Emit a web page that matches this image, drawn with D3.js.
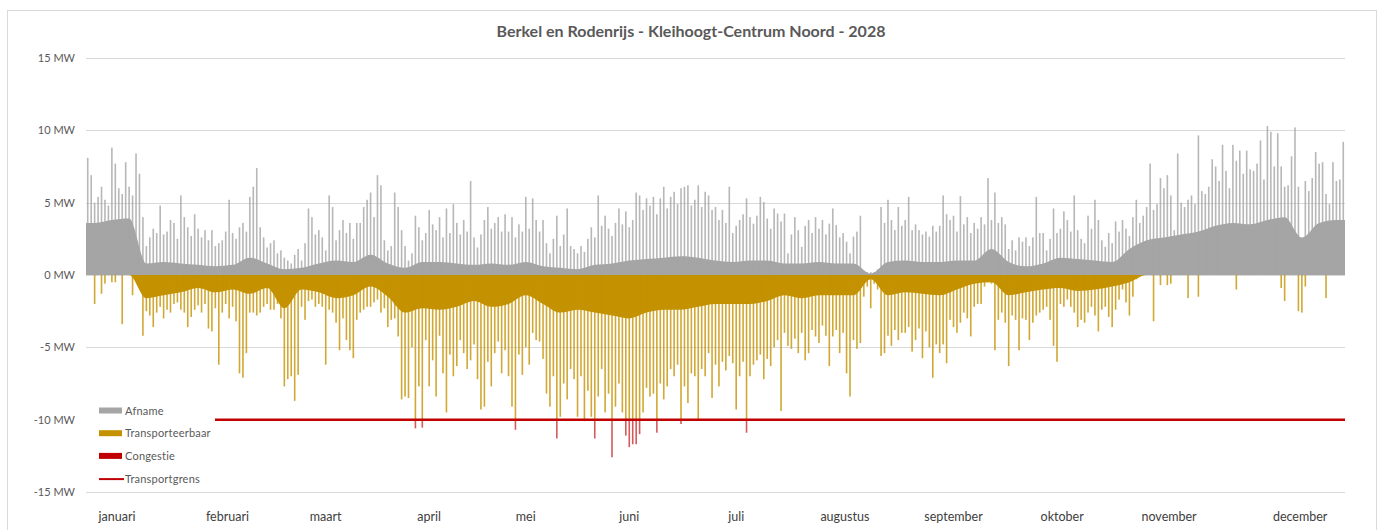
<!DOCTYPE html>
<html>
<head>
<meta charset="utf-8">
<script src="https://cdn.jsdelivr.net/npm/d3@7/dist/d3.min.js"></script>
<style>
body{margin:0;background:#fff;}
text{font-family:Lato,"Open Sans",sans-serif;}
</style>
</head>
<body>
<svg id="chart" width="1381" height="530"></svg>
<script>
// daily peak values (MW), day 0 = 1 januari
var afnamePiek = [
 8.1,6.9,5.0,5.4,6.1,5.2,4.8,8.8,7.7,6.0,5.6,7.8,6.1,5.5,8.4,7.0,
 4.0,2.0,2.6,3.2,2.9,4.8,2.8,3.0,3.8,3.6,2.5,5.5,4.0,3.3,2.7,
 4.2,3.2,2.6,3.1,2.4,3.1,2.0,2.2,2.4,3.0,5.2,2.9,2.5,3.3,3.6,
 3.0,5.4,6.1,7.4,3.3,2.6,1.9,2.2,2.4,1.5,1.7,1.2,1.0,0.8,1.4,
 1.8,1.0,2.2,4.6,4.0,2.8,3.1,2.6,1.7,5.5,4.7,2.4,3.1,3.8,2.9,
 3.6,2.5,3.6,3.6,4.7,5.2,5.7,4.0,6.9,6.2,2.4,1.7,2.0,5.7,4.7,
 3.1,2.0,1.0,1.5,4.1,3.3,2.4,2.9,4.5,3.5,3.1,4.0,2.6,4.6,2.9,
 4.9,3.6,2.8,3.8,3.0,6.5,2.6,1.9,2.8,3.8,4.7,3.2,3.6,4.0,3.0,4.2,
 3.0,4.0,2.6,3.5,3.0,5.4,3.2,5.3,3.8,3.0,3.8,2.2,1.5,2.5,4.1,2.0,
 2.8,4.6,2.0,1.8,1.5,2.0,1.6,2.5,3.3,2.6,5.5,3.4,4.1,3.2,2.7,3.6,
 4.6,3.5,4.4,3.3,3.8,5.7,5.5,4.5,5.3,4.8,5.4,4.2,5.3,6.1,4.6,5.4,
 5.75,4.9,6.0,6.1,6.2,4.8,5.2,6.2,4.7,5.75,5.5,4.5,4.7,3.8,4.5,3.6,
 6.1,2.9,3.4,3.8,4.2,5.3,4.0,3.55,4.1,5.4,5.05,3.9,3.2,4.6,4.25,3.7,
 4.25,1.5,2.8,4.0,3.1,1.95,3.4,3.8,2.9,4.0,3.2,3.8,2.8,3.55,4.6,3.45,
 2.6,2.9,2.3,1.5,2.65,3.0,4.1,0.3,0.2,0.2,0.2,0.4,4.7,3.6,5.2,3.8,
 3.1,4.7,3.4,3.8,5.4,3.1,3.5,3.1,2.8,3.0,2.65,
 3.4,3.0,3.4,5.5,4.2,3.8,4.1,3.0,5.45,3.5,
 4.0,2.9,3.6,3.2,4.0,3.5,6.7,3.8,5.7,3.6,
 4.0,3.5,1.8,2.4,1.7,2.6,2.3,2.6,2.0,2.6,
 5.4,2.9,2.9,1.7,2.5,4.6,2.9,3.2,4.4,3.8,
 3.0,5.5,3.1,2.5,2.2,4.1,3.2,5.2,3.8,2.4,
 1.95,2.9,2.2,3.7,3.0,3.8,3.2,2.7,4.0,5.2,
 3.6,4.1,4.7,7.7,4.5,4.9,6.7,6.0,6.9,5.5,
 3.1,8.4,5.0,4.7,5.2,5.5,4.9,9.65,5.8,5.6,
 6.1,8.0,7.5,6.5,9.0,7.2,6.0,9.0,7.9,8.6,
 7.0,8.6,7.3,7.2,7.7,9.3,6.6,10.3,9.9,7.5,
 9.8,7.5,6.1,6.2,8.2,10.2,6.1,1.95,6.5,5.8,
 6.7,8.5,7.7,7.8,5.6,4.9,7.8,6.5,6.6,9.2
];

var invoedingPiek = [
 0,0,-2.0,0,-1.3,-0.6,0,-0.5,-0.5,0,-3.4,0,0,-1.4,0,0,
 -4.2,-2.5,-2.8,-3.6,-2.6,-2.2,-3.0,-2.4,-2.6,-2.0,-1.9,-2.4,-2.6,-3.6,-2.9,
 -2.4,-2.1,-2.6,-2.0,-3.7,-3.9,-2.3,-6.2,-2.6,-2.0,-3.0,-2.2,-3.2,-6.8,-7.1,
 -5.4,-2.6,-2.6,-2.8,-2.6,-2.2,-2.0,-2.4,-2.4,-2.0,-3.0,-7.7,-7.2,-7.0,-8.7,-6.9,
 -2.2,-3.1,-1.8,-1.7,-2.2,-2.0,-2.2,-6.2,-2.4,-2.6,-3.3,-5.2,-3.0,-4.5,
 -5.2,-5.75,-3.1,-2.6,-2.4,-2.2,-2.2,-1.9,-1.7,-2.6,-2.3,-3.6,-3.1,-3.0,-4.25,
 -8.6,-8.4,-8.5,-5.0,-10.6,-7.7,-10.55,-4.5,-7.7,-5.9,-8.4,-4.2,-6.8,-9.5,-5.5,
 -7.0,-6.3,-4.5,-5.4,-6.5,-5.9,-4.8,-7.2,-9.3,-9.1,-6.0,-7.7,-5.4,-4.6,-6.8,-5.2,
 -7.0,-9.1,-10.7,-5.5,-6.9,-5.0,-6.2,-4.0,-4.5,-4.6,-5.8,-8.2,-9.1,-7.0,-11.3,-9.8,
 -7.5,-8.6,-6.5,-7.2,-9.8,-7.0,-10.1,-8.0,-9.8,-11.3,-8.4,-6.5,-9.5,-8.2,-12.6,-9.1,
 -7.5,-9.5,-11.1,-11.9,-11.7,-11.7,-11.0,-9.5,-7.8,-8.4,-8.2,-10.9,-7.5,-8.6,-7.7,-6.5,
 -7.0,-6.2,-10.3,-7.7,-8.85,-6.8,-7.0,-10.0,-6.5,-7.0,-5.4,-8.5,-6.2,-7.7,-6.0,-6.6,
 -5.6,-6.1,-9.3,-7.0,-6.0,-10.9,-7.0,-6.2,-5.9,-5.5,-7.2,-5.8,-6.3,-5.0,-4.5,-9.4,
 -4.0,-4.9,-5.1,-4.4,-5.4,-4.0,-5.9,-5.4,-3.8,-4.25,-4.7,-3.5,-4.2,-6.3,-4.25,-3.8,
 -5.4,-4.0,-6.8,-8.4,-4.5,-5.1,-4.7,-1.5,-0.8,-2.3,-0.6,-1.0,-5.6,-5.4,-4.2,-4.9,
 -3.8,-4.5,-4.0,-4.0,-3.6,-5.3,-4.5,-3.7,-5.75,-3.9,-5.0,
 -7.1,-4.8,-5.4,-4.8,-6.1,-3.1,-3.6,-4.0,-3.3,-2.6,
 -3.0,-4.25,-2.2,-2.0,-2.0,-0.8,-0.5,-0.6,-5.2,-3.1,
 -2.6,-3.3,-6.3,-2.8,-3.1,-5.2,-3.0,-3.1,-4.5,-3.3,
 -2.8,-2.6,-2.4,-2.2,-3.1,-4.9,-6.0,-2.0,-2.2,-1.7,
 -2.2,-2.6,-3.6,-3.1,-3.3,-2.6,-2.2,-2.8,-3.9,-2.4,
 -2.2,-2.9,-3.6,-2.4,-1.7,-1.0,-1.9,-2.8,-1.5,-0.3,
 0,0,0,0,-3.2,0,-0.7,0,-0.7,-0.6,
 0,0,0,0,-1.6,0,0,-1.5,0,0,
 0,0,0,0,0,0,0,0,-1.0,0,
 0,0,0,0,0,0,0,0,0,0,
 0,-0.9,-1.8,0,0,0,-2.5,-2.6,-0.8,0,
 0,0,0,0,-1.6,0,0,0,0,0
];

// typical (solid) level per block of 5 days
var afnameBasis5d = [3.6,3.8,3.9,0.8,0.9,0.8,0.7,0.6,0.7,1.2,
 0.8,0.4,0.5,0.8,1.0,0.9,1.4,0.8,0.5,0.9,
 0.9,0.8,0.7,0.8,0.7,0.9,0.6,0.5,0.4,0.7,
 0.8,1.0,1.1,1.2,1.3,1.2,1.0,0.9,1.0,1.0,
 0.8,0.8,0.9,0.8,0.8,0.1,0.9,1.0,0.9,0.9,
 1.0,1.0,1.8,0.9,0.6,0.8,1.2,1.1,1.0,0.9,
 1.8,2.4,2.6,2.8,3.0,3.4,3.6,3.5,3.8,4.0,
 2.6,3.6,3.8];

var invoedingBasis5d = [0,0,0,-1.6,-1.4,-1.2,-0.9,-1.2,-1.0,-1.3,
 -0.9,-2.3,-1.0,-1.2,-1.6,-1.4,-0.8,-1.5,-2.6,-2.3,
 -2.4,-2.2,-1.8,-2.2,-2.0,-1.4,-2.0,-2.6,-2.4,-2.6,
 -2.8,-3.0,-2.6,-2.4,-2.4,-2.2,-2.0,-2.0,-2.0,-1.8,
 -1.4,-1.6,-1.4,-1.4,-1.4,-0.3,-1.4,-1.2,-1.3,-1.4,
 -1.0,-0.6,-0.5,-1.4,-1.2,-1.0,-0.9,-1.1,-1.0,-0.8,
 -0.5,0,0,0,0,0,0,0,0,0,
 0,0,0];

var transportgrens = -10;
var maanden = ["januari","februari","maart","april","mei","juni","juli","augustus","september","oktober","november","december"];
var maandLabelDag = [9,41,69.5,99.5,127.5,157.5,188.5,220,251.5,283,314,352];
var yTicks = [-15,-10,-5,0,5,10,15];

var grijs = "#A5A5A5", goud = "#C49200", rood = "#C00000";

var svg = d3.select("#chart");

svg.append("rect")
    .attr("x",7.5).attr("y",10.5)
    .attr("width",1369).attr("height",530)
    .attr("fill","#fff").attr("stroke","#D9D9D9");

svg.append("text")
    .attr("x",691).attr("y",37)
    .attr("text-anchor","middle")
    .style("font-size","16px").style("font-weight","bold")
    .style("fill","#595959")
    .text("Berkel en Rodenrijs - Kleihoogt-Centrum Noord - 2028");

var x = d3.scaleLinear().domain([0,365]).range([86,1345]);
var y = d3.scaleLinear().domain([-15,15]).range([492,58]);

// gridlines + labels
svg.selectAll(".grid").data(yTicks).enter().append("line")
    .attr("class","grid")
    .attr("x1",x(0)).attr("x2",x(365))
    .attr("y1",function(d){ return Math.round(y(d))+0.5; })
    .attr("y2",function(d){ return Math.round(y(d))+0.5; })
    .attr("stroke","#D9D9D9").attr("stroke-width",1);

svg.selectAll(".ylab").data(yTicks).enter().append("text")
    .attr("class","ylab")
    .attr("x",75)
    .attr("y",function(d){ return y(d)+4; })
    .attr("text-anchor","end")
    .style("font-size","11px").style("fill","#595959")
    .text(function(d){ return d+" MW"; });

var dagen = d3.range(afnamePiek.length);
var dw = x(1)-x(0);
var spikeW = 1.6;
var bars = svg.append("g");

// solid base level: one point per 5-day block (centre), held flat to both ends of the year
function basisPunten(reeks){
    var pts = [{dag:0, v:reeks[0]}];
    for(var p=0; p < reeks.length; p++){
        pts.push({dag:Math.min(5*p+2.5, 364.5), v:reeks[p]});
    }
    pts.push({dag:365, v:reeks[reeks.length-1]});
    return pts;
}
var basisArea = d3.area()
    .curve(d3.curveMonotoneX)
    .x(function(d){ return x(d.dag); })
    .y0(y(0))
    .y1(function(d){ return y(d.v); });

bars.append("path")
    .attr("d", basisArea(basisPunten(afnameBasis5d)))
    .attr("fill",grijs);

bars.append("path")
    .attr("d", basisArea(basisPunten(invoedingBasis5d)))
    .attr("fill",goud);

// daily peaks
bars.selectAll(".afPiek").data(dagen).enter().append("rect")
    .attr("x",function(d){ return x(d)+(dw-spikeW)/2; })
    .attr("width",spikeW)
    .attr("y",function(d){ return y(afnamePiek[d]); })
    .attr("height",function(d){ return y(0)-y(afnamePiek[d]); })
    .attr("fill",grijs).attr("opacity",0.8);

bars.selectAll(".inPiek").data(dagen).enter().append("rect")
    .attr("x",function(d){ return x(d)+(dw-spikeW)/2; })
    .attr("width",spikeW)
    .attr("y",y(0))
    .attr("height",function(d){ return y(Math.max(invoedingPiek[d],transportgrens))-y(0); })
    .attr("fill",goud).attr("opacity",0.8);

bars.selectAll(".congestie").data(dagen.filter(function(d){ return invoedingPiek[d] < transportgrens; }))
    .enter().append("rect")
    .attr("x",function(d){ return x(d)+(dw-spikeW)/2; })
    .attr("width",spikeW)
    .attr("y",y(transportgrens))
    .attr("height",function(d){ return y(invoedingPiek[d])-y(transportgrens); })
    .attr("fill",rood).attr("opacity",0.65);

// transportgrens
svg.append("line")
    .attr("x1",x(0)).attr("x2",x(365))
    .attr("y1",y(transportgrens)).attr("y2",y(transportgrens))
    .attr("stroke",rood).attr("stroke-width",2.5);

// month labels
svg.selectAll(".maand").data(maanden).enter().append("text")
    .attr("x",function(d,i){ return x(maandLabelDag[i]); })
    .attr("y",521)
    .attr("text-anchor","middle")
    .style("font-size","12.5px").style("fill","#404040")
    .text(function(d){ return d; });

// legend
var legenda = [
    {naam:"Afname", kleur:grijs, type:"rect"},
    {naam:"Transporteerbaar", kleur:goud, type:"rect"},
    {naam:"Congestie", kleur:rood, type:"rect"},
    {naam:"Transportgrens", kleur:rood, type:"line"}
];
svg.append("rect").attr("x",84).attr("y",399).attr("width",131).attr("height",92).attr("fill","#fff");
for(var i=0; i < legenda.length; i++){
    var ly = 411 + i*22.7;
    if(legenda[i].type=="rect"){
        svg.append("rect")
            .attr("x",99).attr("y",ly-3.5)
            .attr("width",23).attr("height",6)
            .attr("fill",legenda[i].kleur);
    } else {
        svg.append("line")
            .attr("x1",99).attr("x2",124)
            .attr("y1",ly).attr("y2",ly)
            .attr("stroke",legenda[i].kleur).attr("stroke-width",2);
    }
    svg.append("text")
        .attr("x",125).attr("y",ly+3.5)
        .style("font-size","11px").style("letter-spacing","0.2px")
        .style("fill","#595959")
        .text(legenda[i].naam);
}
</script>
</body>
</html>
